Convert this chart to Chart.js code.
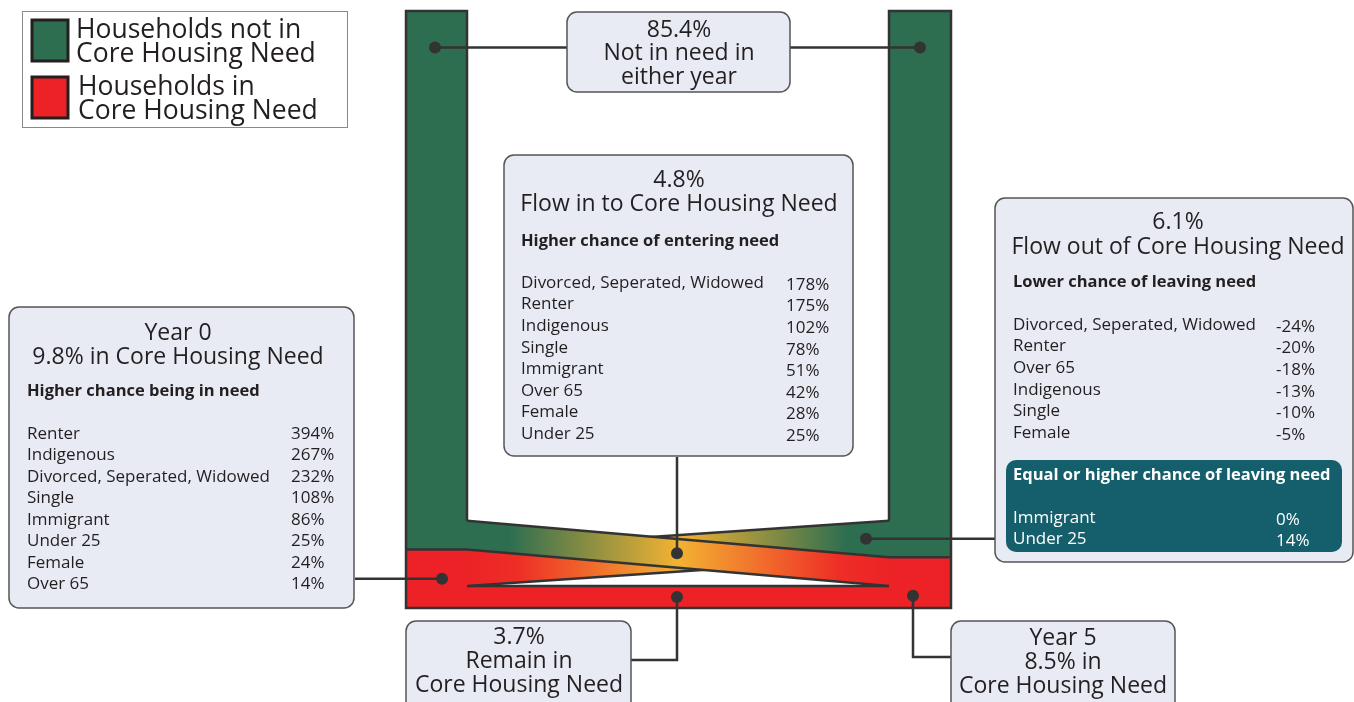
<!DOCTYPE html>
<html>
<head>
<meta charset="utf-8">
<title>Core Housing Need flows</title>
<script src="https://cdn.jsdelivr.net/npm/chart.js@4.4.1/dist/chart.umd.min.js"></script>
<style>
  html, body { margin: 0; padding: 0; background: #fff; overflow: hidden; }
  #wrap { width: 1354px; height: 702px; }
</style>
</head>
<body>
<div id="wrap"><canvas id="flowChart" width="1354" height="702"></canvas></div>
<script>
// Shares of households (%)
const notInNeed = 85.4;   // not in need in either year
const flowIn = 4.8;       // flow in to core housing need
const flowOut = 6.1;      // flow out of core housing need
const remainIn = 3.7;     // remain in core housing need
const year0Need = 9.8;
const year5Need = 8.5;

// Year 0 - higher chance being in need
const year0Labels = ['Renter', 'Indigenous', 'Divorced, Seperated, Widowed', 'Single', 'Immigrant', 'Under 25', 'Female', 'Over 65'];
const year0Values = [394, 267, 232, 108, 86, 25, 24, 14];

// Flow in - higher chance of entering need
const inLabels = ['Divorced, Seperated, Widowed', 'Renter', 'Indigenous', 'Single', 'Immigrant', 'Over 65', 'Female', 'Under 25'];
const inValues = [178, 175, 102, 78, 51, 42, 28, 25];

// Flow out - lower chance of leaving need
const outLabels = ['Divorced, Seperated, Widowed', 'Renter', 'Over 65', 'Indigenous', 'Single', 'Female'];
const outValues = [-24, -20, -18, -13, -10, -5];

// Flow out - equal or higher chance of leaving need
const outUpLabels = ['Immigrant', 'Under 25'];
const outUpValues = [0, 14];

// colours
const GREEN = '#2D6E50';
const RED = '#EC2227';
const AMBER = '#F3B232';
const INK = '#333333';
const TEXT = '#231F20';
const BOX_FILL = '#E8EAF4';
const TEAL = '#155F6D';
const FONT = '"Open Sans", "Noto Sans", sans-serif';

// layout: pixel rows used for 100% and 0% on the flow axis
const FRAME_TOP = 11, FRAME_BOTTOM = 608, H = 702;
const pxPerPct = (FRAME_BOTTOM - FRAME_TOP) / 100;
const pctMax = FRAME_BOTTOM / pxPerPct;
const pctMin = (FRAME_BOTTOM - H) / pxPerPct;

const leftNode = [406, 467];
const rightNode = [889, 951];

// band edges (in %) at the left and right node
const inBand = { l: [year0Need, year0Need + flowIn], r: [remainIn, year5Need] };
const outBand = { l: [remainIn, year0Need], r: [year5Need, year5Need + flowOut] };

function bandMid(band, x) {
    const t = (x - leftNode[1]) / (rightNode[0] - leftNode[1]);
    const lo = band.l[0] + (band.r[0] - band.l[0]) * t;
    const hi = band.l[1] + (band.r[1] - band.l[1]) * t;
    return (lo + hi) / 2;
}

// marker dots, in x / % coordinates
const markers = [
    { x: 435, y: notInNeed + year0Need + flowIn - 6.1 },
    { x: 920, y: notInNeed + year0Need + flowIn - 6.1 },
    { x: 677, y: bandMid(inBand, 677) },
    { x: 866, y: bandMid(outBand, 866) + 0.3 },
    { x: 442, y: year0Need / 2 },
    { x: 677, y: remainIn / 2 },
    { x: 913, y: remainIn / 2 + 0.2 }
];

// leader lines: from marker to the box edge
const leaders = [
    [[567, null]],
    [[790, null]],
    [[null, 457]],
    [[995, null]],
    [[355, null]],
    [[null, 660], [631, 660]],
    [[null, 657], [951, 657]]
];

function flowPaths(chart) {
    const ctx = chart.ctx;
    const x = v => chart.scales.x.getPixelForValue(v);
    const p = v => chart.scales.pct.getPixelForValue(v);
    const xl0 = x(leftNode[0]), xl1 = x(leftNode[1]), xr0 = x(rightNode[0]), xr1 = x(rightNode[1]);

    ctx.save();
    // node columns
    ctx.fillStyle = GREEN;
    ctx.fillRect(xl0, p(100), xl1 - xl0, p(year0Need) - p(100));
    ctx.fillRect(xr0, p(100), xr1 - xr0, p(year5Need) - p(100));
    ctx.fillStyle = RED;
    ctx.fillRect(xl0, p(year0Need), xl1 - xl0, p(0) - p(year0Need));
    ctx.fillRect(xr0, p(year5Need), xr1 - xr0, p(0) - p(year5Need));

    // remain band
    ctx.fillRect(xl1 - 1, p(remainIn), xr0 - xl1 + 2, p(0) - p(remainIn));

    ctx.strokeStyle = INK;
    ctx.lineWidth = 2.5;
    ctx.lineJoin = 'miter';

    function band(b, stops) {
        const g = ctx.createLinearGradient(xl1, 0, xr0, 0);
        stops.forEach(s => g.addColorStop(s[0], s[1]));
        ctx.beginPath();
        ctx.moveTo(xl1 - 1, p(b.l[0]));
        ctx.lineTo(xr0 + 1, p(b.r[0]));
        ctx.lineTo(xr0 + 1, p(b.r[1]));
        ctx.lineTo(xl1 - 1, p(b.l[1]));
        ctx.closePath();
        ctx.fillStyle = g;
        ctx.fill();
        ctx.beginPath();
        ctx.moveTo(xl1, p(b.l[0]));
        ctx.lineTo(xr0, p(b.r[0]));
        ctx.moveTo(xl1, p(b.l[1]));
        ctx.lineTo(xr0, p(b.r[1]));
        ctx.stroke();
    }

    // remain top edge
    ctx.beginPath();
    ctx.moveTo(xl1, p(remainIn));
    ctx.lineTo(xr0, p(remainIn));
    ctx.stroke();

    band(outBand, [[0, RED], [0.12, '#EE2E26'], [0.5, AMBER], [0.9, GREEN], [1, GREEN]]);
    band(inBand, [[0, GREEN], [0.1, GREEN], [0.5, AMBER], [0.88, '#EE2E26'], [1, RED]]);

    // outline of the frame and node dividers
    ctx.beginPath();
    ctx.moveTo(xl1, p(inBand.l[1]));
    ctx.lineTo(xl1, p(100));
    ctx.lineTo(xl0, p(100));
    ctx.lineTo(xl0, p(0));
    ctx.lineTo(xr1, p(0));
    ctx.lineTo(xr1, p(100));
    ctx.lineTo(xr0, p(100));
    ctx.lineTo(xr0, p(outBand.r[1]));
    ctx.moveTo(xl0, p(year0Need));
    ctx.lineTo(xl1, p(year0Need));
    ctx.moveTo(xr0, p(year5Need));
    ctx.lineTo(xr1, p(year5Need));
    ctx.stroke();

    // leader lines
    const meta = chart.getDatasetMeta(0);
    ctx.lineWidth = 2.5;
    leaders.forEach((path, i) => {
        const pt = meta.data[i];
        let cx = pt.x, cy = pt.y;
        ctx.beginPath();
        ctx.moveTo(cx, cy);
        path.forEach(seg => {
            cx = seg[0] === null ? cx : seg[0];
            cy = seg[1] === null ? cy : seg[1];
            ctx.lineTo(cx, cy);
        });
        ctx.stroke();
    });
    ctx.restore();
}

function roundBox(ctx, x, y, w, h, r, fill, stroke) {
    ctx.beginPath();
    ctx.roundRect(x, y, w, h, r);
    ctx.fillStyle = fill;
    ctx.fill();
    if (stroke) {
        ctx.strokeStyle = stroke;
        ctx.lineWidth = 1.5;
        ctx.stroke();
    }
}

function write(ctx, str, x, y, font, color, align) {
    ctx.font = font;
    ctx.fillStyle = color;
    ctx.textAlign = align || 'left';
    ctx.textBaseline = 'middle';
    ctx.fillText(str, x, y);
}

const rowFont = '17px ' + FONT;

function table(ctx, labels, values, xLabel, xValue, y0, step, color, dy) {
    labels.forEach((lab, i) => {
        const y = y0 + i * step;
        write(ctx, lab, xLabel, y, rowFont, color);
        write(ctx, values[i] + '%', xValue, y + (dy || 0), rowFont, color);
    });
}

const head = '23px ' + FONT;
const sub = 'bold 16.5px ' + FONT;

const calloutPlugin = {
    id: 'callouts',
    beforeDatasetsDraw(chart) {
        flowPaths(chart);
    },
    afterDatasetsDraw(chart) {
        const ctx = chart.ctx;
        ctx.save();

        // legend
        ctx.fillStyle = '#fff';
        ctx.fillRect(22, 11, 325, 116);
        ctx.strokeStyle = '#8a8a8a';
        ctx.lineWidth = 1;
        ctx.strokeRect(22.5, 11.5, 325, 116);
        ctx.lineWidth = 3;
        ctx.strokeStyle = '#231F20';
        ctx.fillStyle = GREEN;
        ctx.fillRect(32, 20, 36, 41);
        ctx.strokeRect(32, 20, 36, 41);
        ctx.fillStyle = RED;
        ctx.fillRect(32, 77, 36, 41);
        ctx.strokeRect(32, 77, 36, 41);
        const lf = '26.5px ' + FONT;
        write(ctx, 'Households not in', 76, 30, lf, TEXT);
        write(ctx, 'Core Housing Need', 76, 54, lf, TEXT);
        write(ctx, 'Households in', 78, 87, lf, TEXT);
        write(ctx, 'Core Housing Need', 78, 111, lf, TEXT);

        // top box
        roundBox(ctx, 567, 12, 223, 80, 10, BOX_FILL, '#555');
        write(ctx, notInNeed + '%', 679, 30, head, TEXT, 'center');
        write(ctx, 'Not in need in', 679, 53, head, TEXT, 'center');
        write(ctx, 'either year', 679, 77, head, TEXT, 'center');

        // flow in box
        roundBox(ctx, 504, 155, 349, 301, 10, BOX_FILL, '#555');
        write(ctx, flowIn + '%', 679, 180, head, TEXT, 'center');
        write(ctx, 'Flow in to Core Housing Need', 679, 204, head, TEXT, 'center');
        write(ctx, 'Higher chance of entering need', 521, 241, sub, TEXT);
        table(ctx, inLabels, inValues, 521, 786, 283, 21.6, TEXT, 2);

        // flow out box
        roundBox(ctx, 995, 198, 358, 364, 10, BOX_FILL, '#555');
        write(ctx, flowOut + '%', 1178, 222, head, TEXT, 'center');
        write(ctx, 'Flow out of Core Housing Need', 1178, 247, head, TEXT, 'center');
        write(ctx, 'Lower chance of leaving need', 1013, 282, sub, TEXT);
        table(ctx, outLabels, outValues, 1013, 1276, 325, 21.6, TEXT, 2);
        roundBox(ctx, 1006, 460, 336, 92, 10, TEAL, null);
        write(ctx, 'Equal or higher chance of leaving need', 1013, 475, sub, '#fff');
        table(ctx, outUpLabels, outUpValues, 1013, 1276, 518, 21.6, '#fff', 2);

        // year 0 box
        roundBox(ctx, 9, 307, 345, 301, 10, BOX_FILL, '#555');
        write(ctx, 'Year 0', 178, 333, head, TEXT, 'center');
        write(ctx, year0Need + '% in Core Housing Need', 178, 357, head, TEXT, 'center');
        write(ctx, 'Higher chance being in need', 27, 391, sub, TEXT);
        table(ctx, year0Labels, year0Values, 27, 291, 434, 21.5, TEXT, 0);

        // remain box
        roundBox(ctx, 406, 621, 225, 95, 10, BOX_FILL, '#555');
        write(ctx, remainIn + '%', 519, 637, head, TEXT, 'center');
        write(ctx, 'Remain in', 519, 661, head, TEXT, 'center');
        write(ctx, 'Core Housing Need', 519, 685, head, TEXT, 'center');

        // year 5 box
        roundBox(ctx, 951, 621, 224, 95, 10, BOX_FILL, '#555');
        write(ctx, 'Year 5', 1063, 638, head, TEXT, 'center');
        write(ctx, year5Need + '% in', 1063, 662, head, TEXT, 'center');
        write(ctx, 'Core Housing Need', 1063, 686, head, TEXT, 'center');

        ctx.restore();
    }
};

const chart = new Chart(document.getElementById('flowChart'), {
    type: 'scatter',
    data: {
        datasets: [{
            data: markers,
            yAxisID: 'pct',
            pointRadius: 6,
            pointHoverRadius: 6,
            pointBackgroundColor: INK,
            pointBorderWidth: 0,
            clip: false
        }]
    },
    options: {
        responsive: false,
        animation: false,
        devicePixelRatio: 1,
        events: [],
        layout: { padding: 0, autoPadding: false },
        plugins: {
            legend: { display: false },
            tooltip: { enabled: false }
        },
        scales: {
            x: { type: 'linear', min: 0, max: 1354, display: false },
            pct: { type: 'linear', min: pctMin, max: pctMax, display: false }
        }
    },
    plugins: [calloutPlugin]
});
</script>
</body>
</html>
